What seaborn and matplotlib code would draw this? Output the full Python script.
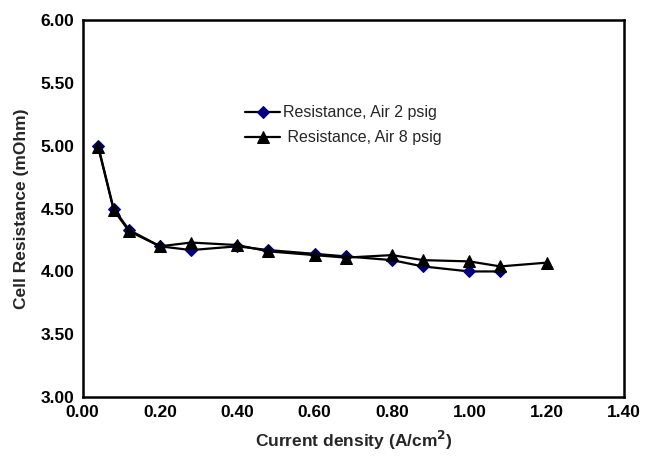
import matplotlib
matplotlib.use('Agg')
import matplotlib.pyplot as plt
import seaborn as sns
from matplotlib.ticker import FormatStrFormatter

# current density (A/cm2) and cell resistance (mOhm)
current_2psig = [0.04, 0.08, 0.12, 0.20, 0.28, 0.40, 0.48, 0.60, 0.68, 0.80, 0.88, 1.00, 1.08]
resist_2psig = [5.00, 4.50, 4.33, 4.20, 4.17, 4.20, 4.17, 4.14, 4.12, 4.09, 4.04, 4.00, 4.00]

current_8psig = [0.04, 0.08, 0.12, 0.20, 0.28, 0.40, 0.48, 0.60, 0.68, 0.80, 0.88, 1.00, 1.08, 1.20]
resist_8psig = [4.99, 4.49, 4.32, 4.20, 4.23, 4.21, 4.16, 4.13, 4.11, 4.13, 4.09, 4.08, 4.04, 4.07]

labels = ['Resistance, Air 2 psig', ' Resistance, Air 8 psig']
xticks = [0.0, 0.2, 0.4, 0.6, 0.8, 1.0, 1.2, 1.4]
yticks = [3.0, 3.5, 4.0, 4.5, 5.0, 5.5, 6.0]

sns.set_style('white')
plt.rcParams['font.family'] = ['Liberation Sans', 'DejaVu Sans']

fig, ax = plt.subplots(figsize=(6.46, 4.58), dpi=100)
fig.subplots_adjust(left=0.128, right=0.966, top=0.956, bottom=0.133)

sns.lineplot(x=current_2psig, y=resist_2psig, ax=ax, color='black', lw=1.6,
             marker='D', markersize=6.5, markerfacecolor='#000080',
             markeredgecolor='#000080', label=labels[0])
sns.lineplot(x=current_8psig, y=resist_8psig, ax=ax, color='black', lw=1.6,
             marker='^', markersize=9, markerfacecolor='black',
             markeredgecolor='black', label=labels[1])

ax.set_xlim(0, 1.4)
ax.set_ylim(3.0, 6.0)
ax.set_xticks(xticks)
ax.set_yticks(yticks)
ax.xaxis.set_major_formatter(FormatStrFormatter('%.2f'))
ax.yaxis.set_major_formatter(FormatStrFormatter('%.2f'))
ax.tick_params(direction='in', length=4, width=1, colors='black',
               labelsize=12.5, pad=6)
for lab in ax.get_xticklabels() + ax.get_yticklabels():
    lab.set_fontweight('bold')

for sp in ax.spines.values():
    sp.set_visible(True)
    sp.set_color('black')
    sp.set_linewidth(1.8)

ax.set_xlabel('Current density (A/cm$^\\mathbf{2}$)', fontsize=12.5, fontweight='bold', labelpad=6)
ax.set_ylabel('Cell Resistance (mOhm)', fontsize=12.5, fontweight='bold', labelpad=8)

ax.legend(loc='upper left', bbox_to_anchor=(0.30, 0.774), frameon=False,
          fontsize=11.5, handlelength=2.2, handletextpad=0.2,
          labelspacing=0.62, borderpad=0, borderaxespad=0)

fig.savefig('out.png', dpi=100)
